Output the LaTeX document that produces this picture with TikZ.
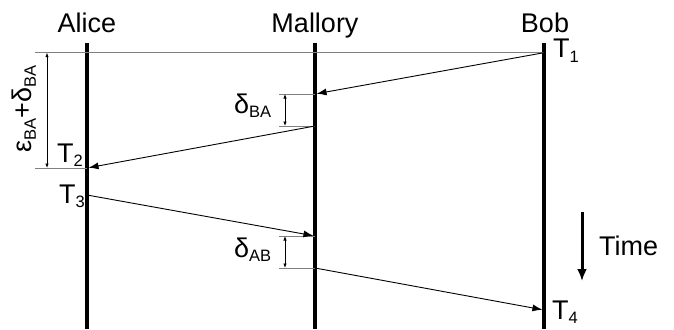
\documentclass[tikz,border=0pt]{standalone}
\usepackage{fontspec}
\setmainfont{Liberation Sans}
\usetikzlibrary{arrows.meta}

\newcommand{\mysub}[1]{\raisebox{-0.3ex}{\fontsize{16.5}{16.5}\selectfont #1}}

\begin{document}
\begin{tikzpicture}[x=1pt,y=-1pt,
  lbl/.style={font=\fontsize{27}{32}\selectfont, inner sep=0pt},
  life/.style={line width=3.2pt},
  msg/.style={line width=0.9pt, shorten >=1.6pt, -{Latex[length=10pt,width=7pt]}},
  guide/.style={gray, line width=0.6pt},
  dimarrow/.style={line width=0.7pt, {Latex[length=4.5pt,width=3.5pt]}-{Latex[length=4.5pt,width=3.5pt]}},
  timearrow/.style={line width=3pt, -{Latex[length=12pt,width=10pt]}}]

\useasboundingbox (0,0) rectangle (674,329);

% lifelines
\coordinate (At) at (87,43);  \coordinate (Ab) at (87,329);
\coordinate (Mt) at (315,43); \coordinate (Mb) at (315,329);
\coordinate (Bt) at (544,43); \coordinate (Bb) at (544,329);
\draw[life] (At) -- (Ab);
\draw[life] (Mt) -- (Mb);
\draw[life] (Bt) -- (Bb);

% headers
\node[lbl, anchor=base] (alice) at (87,33) {Alice};
\node[lbl, anchor=base] (mallory) at (315,33) {Mallory};
\node[lbl, anchor=base] (bob) at (545,33) {Bob};

% event points
\coordinate (T1) at (544,52.7);
\coordinate (M1) at (315,94);
\coordinate (M2) at (315,126);
\coordinate (T2) at (87,168);
\coordinate (T3) at (87,195);
\coordinate (M3) at (315,236);
\coordinate (M4) at (315,268);
\coordinate (T4) at (544,310);

% guide lines
\coordinate (g1) at (35,52.7);
\coordinate (g2) at (35,168);
\draw[guide] (g1) -- (T1);
\draw[guide] (g2) -- (T2);
\coordinate (d1) at (279,94);  \coordinate (d2) at (279,126);
\coordinate (d3) at (279,236); \coordinate (d4) at (279,268);
\draw[guide] (d1) -- (M1);
\draw[guide] (d2) -- (M2);
\draw[guide] (d3) -- (M3);
\draw[guide] (d4) -- (M4);

% dimension arrows
\coordinate (e1) at (47,52.7); \coordinate (e2) at (47,168);
\draw[dimarrow] (e1) -- (e2);
\coordinate (f1) at (285,94);  \coordinate (f2) at (285,126);
\draw[dimarrow] (f1) -- (f2);
\coordinate (h1) at (285,236); \coordinate (h2) at (285,268);
\draw[dimarrow] (h1) -- (h2);

% messages
\draw[msg] (T1) -- (M1);
\draw[msg] (M2) -- (T2);
\draw[msg] (T3) -- (M3);
\draw[msg] (M4) -- (T4);

% time labels
\node[lbl, anchor=base west] (t1) at (553,58) {T\mysub{1}};
\node[lbl, anchor=base west] (t2) at (57,162) {T\mysub{2}};
\node[lbl, anchor=base west] (t3) at (59,203) {T\mysub{3}};
\node[lbl, anchor=base west] (t4) at (552,319) {T\mysub{4}};

% delay labels
\node[lbl, anchor=base west] (dba) at (234,113) {δ\mysub{BA}};
\node[lbl, anchor=base west] (dab) at (234,257) {δ\mysub{AB}};
\node[lbl, rotate=90] (eps) at (24,109) {ε\mysub{BA}+δ\mysub{BA}};

% time arrow
\coordinate (ta) at (582,212); \coordinate (tb) at (582,281);
\draw[timearrow] (ta) -- (tb);
\node[lbl, anchor=base west] (time) at (599,255) {Time};
\end{tikzpicture}
\end{document}
